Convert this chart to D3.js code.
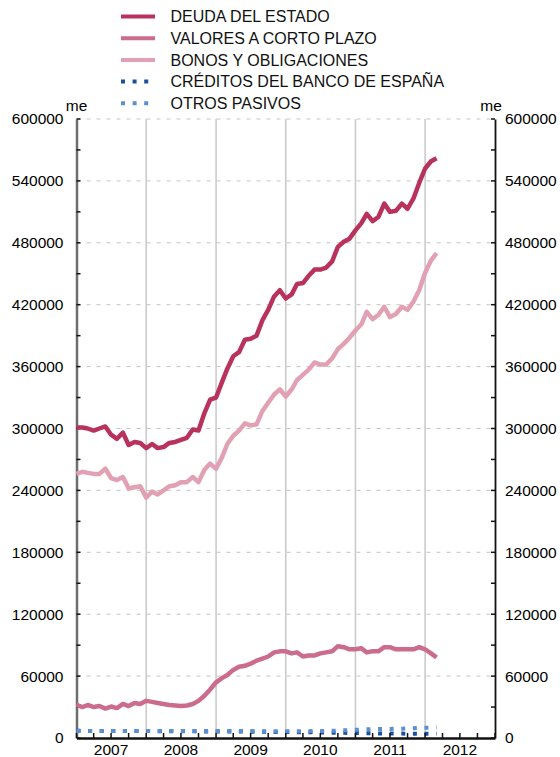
<!DOCTYPE html>
<html>
<head>
<meta charset="utf-8">
<script src="https://cdn.jsdelivr.net/npm/d3@7"></script>
<style>
  body { margin: 0; background: #fff; }
  svg { display: block; font-family: Arial, "Liberation Sans", sans-serif; }
</style>
</head>
<body>
<div id="chart"></div>
<script>
// monthly data, Jan 2007 onwards (millones de euros)
var deuda = [301000,301000,300000,298000,300000,302000,294000,290000,296000,284000,287000,286000,
  281000,285000,281000,282000,286000,287000,289000,291000,299000,298000,315000,328000,
  330000,345000,358000,370000,374000,386000,387000,390000,405000,415000,428000,434000,
  426000,430000,440000,441000,448000,454000,454000,456000,462000,476000,481000,484000,
  492000,499000,508000,501000,505000,518000,510000,511000,518000,513000,523000,538000,
  552000,559000,562000];
var valores = [32000,30000,32000,30000,31000,28500,30500,29000,33000,31000,34000,33000,
  36000,35000,34000,33000,32000,31500,31000,31500,33000,36000,41000,47000,
  54000,58000,61000,66000,69000,70000,72000,75000,77000,79000,83000,84000,
  84000,82000,83000,79000,80000,80000,82000,83000,84000,89000,88000,86000,
  86000,87000,83000,84000,84000,88000,88000,86000,86000,86000,86000,88000,
  86000,82000,78000];
var bonos = [256000,258000,257000,256000,256000,261000,252000,250000,253000,242000,243000,244000,
  233000,239000,236000,240000,244000,245000,248000,248000,253000,248000,260000,266000,
  261000,272000,285000,293000,298000,305000,303000,304000,317000,325000,333000,338000,
  331000,338000,347000,352000,357000,364000,362000,362000,368000,377000,382000,388000,
  395000,401000,413000,406000,410000,418000,408000,411000,418000,415000,423000,434000,
  451000,463000,470000];
var creditos = [7000,7000,6900,6900,6900,6900,6800,6800,6800,6800,6700,6700,
  6700,6700,6600,6600,6600,6600,6500,6500,6500,6500,6400,6400,
  6300,6300,6300,6200,6200,6200,6100,6100,6000,6000,5900,5900,
  5800,5700,5600,5600,5500,5500,5400,5300,5200,5100,5000,4900,
  4800,4700,4600,4500,4400,4400,4300,4300,4300,4200,4200,4200,
  4200,4200,4200];
var otros = [6800,6800,6800,6800,6800,6700,6700,6700,6700,6700,6700,6700,
  6700,6700,6700,6700,6700,6700,6700,6700,6700,6800,6800,6800,
  6800,6800,6800,6800,6700,6700,6700,6600,6600,6600,6500,6500,
  6500,6500,6500,6600,6600,6700,6800,6900,7000,7200,7400,7600,
  7900,8200,8400,8600,8700,8800,8800,8900,9000,9200,9500,9800,
  10000,10000,10100];

var yTicks = [0,60000,120000,180000,240000,300000,360000,420000,480000,540000,600000];
var years = [2007,2008,2009,2010,2011,2012];
var seriesNames = ["DEUDA DEL ESTADO", "VALORES A CORTO PLAZO", "BONOS Y OBLIGACIONES",
  "CRÉDITOS DEL BANCO DE ESPAÑA", "OTROS PASIVOS"];

(function() {
  var series = [
    {name: seriesNames[0], values: deuda, color: "#b8325c", dash: null},
    {name: seriesNames[1], values: valores, color: "#cc6c8c", dash: null},
    {name: seriesNames[2], values: bonos, color: "#e2a0b4", dash: null},
    {name: seriesNames[3], values: creditos, color: "#1d4f9e", dash: "4,7.6"},
    {name: seriesNames[4], values: otros, color: "#5a8fd2", dash: "4,7.6"}
  ];

  var W = 560, H = 757;
  var pl = 76.5, pr = 495, pt = 119, pb = 738;

  var svg = d3.select("#chart").append("svg")
    .attr("width", W).attr("height", H);

  var x = d3.scaleTime()
    .domain([new Date(2007,0,1), new Date(2013,0,1)])
    .range([pl, pr]);
  var y = d3.scaleLinear()
    .domain([0, 600000])
    .range([pb, pt]);

  // horizontal dashed grid
  svg.append("g").selectAll("line")
    .data(yTicks.filter(function(d){ return d > 0; }))
    .enter().append("line")
      .attr("x1", pl).attr("x2", pr)
      .attr("y1", function(d){ return y(d); })
      .attr("y2", function(d){ return y(d); })
      .attr("stroke", "#c4c4c4")
      .attr("stroke-width", 1)
      .attr("stroke-dasharray", "4,6");

  // vertical year grid
  svg.append("g").selectAll("line")
    .data(years.slice(1))
    .enter().append("line")
      .attr("x1", function(d){ return x(new Date(d,0,1)); })
      .attr("x2", function(d){ return x(new Date(d,0,1)); })
      .attr("y1", pt).attr("y2", pb)
      .attr("stroke", "#c8c8c8")
      .attr("stroke-width", 1.5);

  // left axis
  var yAxisL = d3.axisLeft(y).tickValues(yTicks).tickSize(0).tickPadding(13)
    .tickFormat(d3.format("d"));
  var gl = svg.append("g").attr("transform", "translate(" + pl + ",0)").call(yAxisL);
  gl.select(".domain").attr("stroke", "#6e6e6e").attr("stroke-width", 2.5);
  gl.selectAll("text").attr("font-size", "15.5px").attr("fill", "#000")
    .attr("font-family", "Arial, 'Liberation Sans', sans-serif");

  // right axis
  var yAxisR = d3.axisRight(y).tickValues(yTicks).tickSize(0).tickPadding(10)
    .tickFormat(d3.format("d"));
  var gr = svg.append("g").attr("transform", "translate(" + pr + ",0)").call(yAxisR);
  gr.select(".domain").attr("stroke", "#111").attr("stroke-width", 1.8);
  gr.selectAll("text").attr("font-size", "15.5px").attr("fill", "#000")
    .attr("font-family", "Arial, 'Liberation Sans', sans-serif");

  // minor ticks every 30000, pointing inside
  var minor = d3.range(0, 600001, 30000);
  svg.append("g").selectAll("line").data(minor).enter().append("line")
    .attr("x1", pl).attr("x2", pl + 4)
    .attr("y1", function(d){ return y(d); }).attr("y2", function(d){ return y(d); })
    .attr("stroke", "#111").attr("stroke-width", 1.5);
  svg.append("g").selectAll("line").data(minor).enter().append("line")
    .attr("x1", pr - 4).attr("x2", pr)
    .attr("y1", function(d){ return y(d); }).attr("y2", function(d){ return y(d); })
    .attr("stroke", "#111").attr("stroke-width", 1.5);

  // unit labels
  svg.append("text").attr("x", pl).attr("y", 111).attr("text-anchor", "middle")
    .attr("font-size", "15.5px").attr("fill", "#000").text("me");
  svg.append("text").attr("x", pr - 4).attr("y", 111).attr("text-anchor", "middle")
    .attr("font-size", "15.5px").attr("fill", "#000").text("me");

  // series lines
  var line = d3.line()
    .x(function(d, i){ return x(new Date(2007, i, 1)); })
    .y(function(d){ return y(d); });

  series.forEach(function(s){
    var p = svg.append("path")
      .datum(s.values)
      .attr("d", line)
      .attr("fill", "none")
      .attr("stroke", s.color)
      .attr("stroke-width", s.dash ? 4 : 4.5)
      .attr("stroke-linejoin", "round");
    if (s.dash) p.attr("stroke-dasharray", s.dash);
  });

  // bottom axis
  var xAxis = d3.axisBottom(x)
    .ticks(d3.timeMonth.every(3)).tickSize(0).tickSizeOuter(0).tickFormat("");
  var gb = svg.append("g").attr("transform", "translate(0," + pb + ")").call(xAxis);
  gb.select(".domain").attr("stroke", "#111").attr("stroke-width", 2.5);
  svg.append("g").selectAll("line")
    .data(x.ticks(d3.timeMonth.every(3)))
    .enter().append("line")
      .attr("x1", function(d){ return x(d); }).attr("x2", function(d){ return x(d); })
      .attr("y1", pb - 5).attr("y2", pb)
      .attr("stroke", "#111").attr("stroke-width", 1.5);

  svg.append("g").selectAll("text")
    .data(years)
    .enter().append("text")
      .attr("x", function(d){ return x(new Date(d, 6, 1)); })
      .attr("y", 755)
      .attr("text-anchor", "middle")
      .attr("font-size", "15.5px")
      .attr("fill", "#000")
      .text(function(d){ return d; });

  // legend
  var lg = svg.append("g");
  series.forEach(function(s, i){
    var yy = 16.5 + i * 21.7;
    var l = lg.append("line")
      .attr("x1", 121).attr("x2", 155)
      .attr("y1", yy).attr("y2", yy)
      .attr("stroke", s.color).attr("stroke-width", 4);
    if (s.dash) l.attr("stroke-dasharray", s.dash);
    lg.append("text")
      .attr("x", 170.5).attr("y", yy + 5.8)
      .attr("font-size", "16px").attr("fill", "#111")
      .text(s.name);
  });
})();
</script>
</body>
</html>
